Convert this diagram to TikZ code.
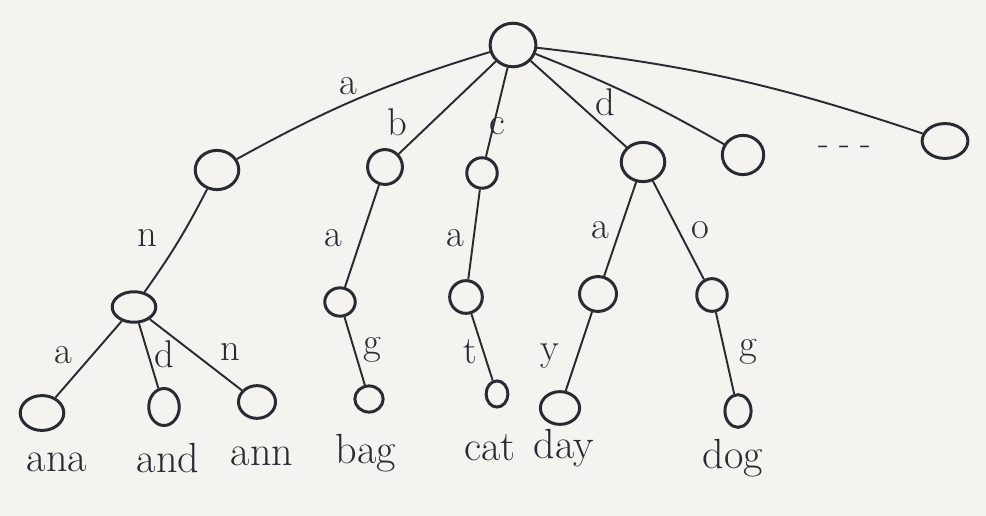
\documentclass[tikz,border=0pt]{standalone}
\usepackage{tikz}
\usetikzlibrary{positioning,shapes.geometric}
\definecolor{paper}{HTML}{F4F3F0}
\definecolor{ink}{HTML}{2A2A33}

\begin{document}
\begin{tikzpicture}[x=0.02cm,y=-0.02cm,
    vtx/.style 2 args={ellipse,draw=ink,line width=1.7pt,inner sep=0pt,
      minimum width={#1*0.62pt},minimum height={#2*0.62pt}},
    lbl/.style={text=ink,font=\fontsize{22}{26}\selectfont},
    word/.style={text=ink,font=\fontsize{24}{28}\selectfont},
    edge/.style={draw=ink,line width=1.1pt}]
  \fill[paper](0,0)rectangle(986,516);
  % level 0 and 1
  \node[vtx={42}{40}](root)at(513,45){};
  \node[vtx={40}{36}](na)at(217,170){};
  \node[vtx={32}{32}](nb)at(385,167){};
  \node[vtx={28}{28}](nc)at(482,173){};
  \node[vtx={40}{36}](nd)at(643,162){};
  \node[vtx={38}{36}](ne)at(743,155){};
  \node[vtx={42}{32}](nz)at(945,141){};
  \node[text=ink,font=\fontsize{20}{24}\selectfont](dots)at(845,150){- - -};
  % level 2
  \node[vtx={40}{28}](nan)at(134,307){};
  \node[vtx={28}{26}](nba)at(340,302){};
  \node[vtx={30}{30}](nca)at(466,297){};
  \node[vtx={34}{32}](nda)at(598,294){};
  \node[vtx={28}{30}](ndo)at(712,295){};
  % leaves
  \node[vtx={40}{32}](ana)at(42,413){};
  \node[vtx={28}{34}](and)at(164,407){};
  \node[vtx={34}{30}](ann)at(257,402){};
  \node[vtx={26}{24}](bag)at(369,399){};
  \node[vtx={20}{24}](cat)at(497,394){};
  \node[vtx={36}{30}](day)at(560,408){};
  \node[vtx={24}{30}](dog)at(738,411){};
  % edges
  \draw[edge](root)to[bend right=6](na);
  \draw[edge](root)--(nb);
  \draw[edge](root)--(nc);
  \draw[edge](root)--(nd);
  \draw[edge](root)to[bend left=4](ne);
  \draw[edge](root)to[bend left=6](nz);
  \draw[edge](na)to[bend left=4](nan);
  \draw[edge](nb)--(nba);
  \draw[edge](nc)--(nca);
  \draw[edge](nd)--(nda);
  \draw[edge](nd)--(ndo);
  \draw[edge](nan)--(ana);
  \draw[edge](nan)--(and);
  \draw[edge](nan)--(ann);
  \draw[edge](nba)--(bag);
  \draw[edge](nca)--(cat);
  \draw[edge](nda)--(day);
  \draw[edge](ndo)--(dog);
  % edge labels
  \node[lbl](la)at(348,86){a};
  \node[lbl](lb)at(397,122){b};
  \node[lbl](lc)at(497,126){c};
  \node[lbl](ld)at(605,102){d};
  \node[lbl](ln)at(147,238){n};
  \node[lbl](lba)at(333,238){a};
  \node[lbl](lca)at(455,238){a};
  \node[lbl](lda)at(600,230){a};
  \node[lbl](ldo)at(700,230){o};
  \node[lbl](lana)at(63,355){a};
  \node[lbl](land)at(164,354){d};
  \node[lbl](lann)at(230,352){n};
  \node[lbl](lbag)at(372,350){g};
  \node[lbl](lcat)at(470,352){t};
  \node[lbl](lday)at(550,356){y};
  \node[lbl](ldog)at(748,352){g};
  % words
  \node[word](wana)at(57,462){ana};
  \node[word](wand)at(168,458){and};
  \node[word](wann)at(262,456){ann};
  \node[word](wbag)at(366,453){bag};
  \node[word](wcat)at(490,448){cat};
  \node[word](wday)at(564,448){day};
  \node[word](wdog)at(733,458){dog};
\end{tikzpicture}
\end{document}
